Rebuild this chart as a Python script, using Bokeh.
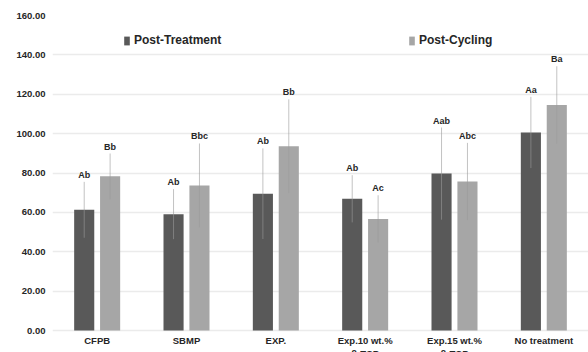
from bokeh.plotting import figure
from bokeh.models import (ColumnDataSource, FactorRange, Legend, LegendItem,
                          FixedTicker, NumeralTickFormatter)
from bokeh.transform import dodge
from bokeh.core.properties import value
from bokeh.embed import file_html
from bokeh.resources import INLINE

categories = ["CFPB", "SBMP", "EXP.", "Exp.10 wt.%", "Exp.15 wt.%", "No treatment"]
category_labels = ["CFPB", "SBMP", "EXP.", "Exp.10 wt.%\nβ-TCP", "Exp.15 wt.%\nβ-TCP",
                   "No treatment"]
post_treatment = [61.3, 59.1, 69.5, 66.9, 79.7, 100.6]
post_treatment_sd = [14.2, 12.7, 23.0, 12.0, 23.4, 18.1]
post_cycling = [78.3, 73.7, 93.6, 56.7, 75.7, 114.6]
post_cycling_sd = [11.6, 21.3, 23.8, 12.0, 19.6, 19.6]
pt_letters = ["Ab", "Ab", "Ab", "Ab", "Aab", "Aa"]
pc_letters = ["Bb", "Bbc", "Bb", "Ac", "Abc", "Ba"]
y_ticks = [0, 20, 40, 60, 80, 100, 120, 140, 160]

FONT = "Liberation Sans"
DARK = "#595959"
LIGHT = "#a6a6a6"
TXT = "#262626"

src = ColumnDataSource(dict(
    cat=categories,
    cat_label=category_labels,
    label_y=[0] * len(categories),
    pt=post_treatment,
    pt_lo=[v - s for v, s in zip(post_treatment, post_treatment_sd)],
    pt_hi=[v + s for v, s in zip(post_treatment, post_treatment_sd)],
    pc=post_cycling,
    pc_lo=[v - s for v, s in zip(post_cycling, post_cycling_sd)],
    pc_hi=[v + s for v, s in zip(post_cycling, post_cycling_sd)],
    pt_lab=pt_letters,
    pc_lab=pc_letters,
))

# frame runs to the bottom edge; the space under 0 holds the category labels
p = figure(x_range=FactorRange(*categories), y_range=(-11.17, 160),
           width=588, height=352, output_backend="svg", toolbar_location=None,
           min_border_left=52, min_border_right=0, min_border_top=15,
           min_border_bottom=0)
p.outline_line_color = None
p.background_fill_color = "white"
p.border_fill_color = "white"
p.xaxis.visible = False

OFF = 0.145
W = 0.225

r_pt = p.vbar(x=dodge("cat", -OFF, range=p.x_range), top="pt", width=W,
              source=src, fill_color=DARK, line_color=None)
r_pc = p.vbar(x=dodge("cat", OFF, range=p.x_range), top="pc", width=W,
              source=src, fill_color=LIGHT, line_color=None)

p.segment(x0=dodge("cat", -OFF, range=p.x_range), x1=dodge("cat", -OFF, range=p.x_range),
          y0="pt_lo", y1="pt_hi", source=src, line_color="#999999",
          line_alpha=0.6, line_width=1)
p.segment(x0=dodge("cat", OFF, range=p.x_range), x1=dodge("cat", OFF, range=p.x_range),
          y0="pc_lo", y1="pc_hi", source=src, line_color="#999999",
          line_alpha=0.6, line_width=1)

p.text(x=dodge("cat", -OFF, range=p.x_range), y="pt_hi", text="pt_lab", source=src,
       text_font=value(FONT), text_font_style="bold", text_font_size="9px",
       text_color=TXT, text_align="center", text_baseline="bottom", y_offset=-2)
p.text(x=dodge("cat", OFF, range=p.x_range), y="pc_hi", text="pc_lab", source=src,
       text_font=value(FONT), text_font_style="bold", text_font_size="9px",
       text_color=TXT, text_align="center", text_baseline="bottom", y_offset=-2)

# category labels (second line cut off at the bottom edge, as in the source image)
p.text(x="cat", y="label_y", text="cat_label", source=src, y_offset=4,
       text_font=value(FONT), text_font_style="bold", text_font_size="9.5px",
       text_color=TXT, text_align="center", text_baseline="top",
       text_line_height=1.25)

# y axis
p.yaxis.ticker = FixedTicker(ticks=y_ticks)
p.yaxis.formatter = NumeralTickFormatter(format="0.00")
ax = p.yaxis[0]
ax.axis_line_color = None
ax.major_tick_line_color = None
ax.minor_tick_line_color = None
ax.major_tick_out = 0
ax.major_tick_in = 0
ax.major_label_text_font = FONT
ax.major_label_text_font_style = "bold"
ax.major_label_text_font_size = "9.5px"
ax.major_label_text_color = TXT
ax.major_label_standoff = 7

p.xgrid.grid_line_color = None
p.ygrid.ticker = FixedTicker(ticks=y_ticks)
p.ygrid.grid_line_color = "#ebebeb"
p.ygrid.grid_line_width = 1.5

def make_legend(label, rend, loc):
    lg = Legend(items=[LegendItem(label=label, renderers=[rend])], location=loc,
                orientation="horizontal", padding=0, margin=0, spacing=0,
                glyph_width=7, glyph_height=11, label_height=11, label_standoff=4,
                label_text_font=FONT, label_text_font_style="bold",
                label_text_font_size="12px", label_text_color=TXT,
                border_line_color=None, background_fill_alpha=0)
    p.add_layout(lg, "center")

# frame bottom is 22px below the zero line, so legend offsets include that
make_legend("Post-Treatment", r_pt, (71, 305))
make_legend("Post-Cycling", r_pc, (356, 305))

open("out.html", "w").write(file_html(p, INLINE))
